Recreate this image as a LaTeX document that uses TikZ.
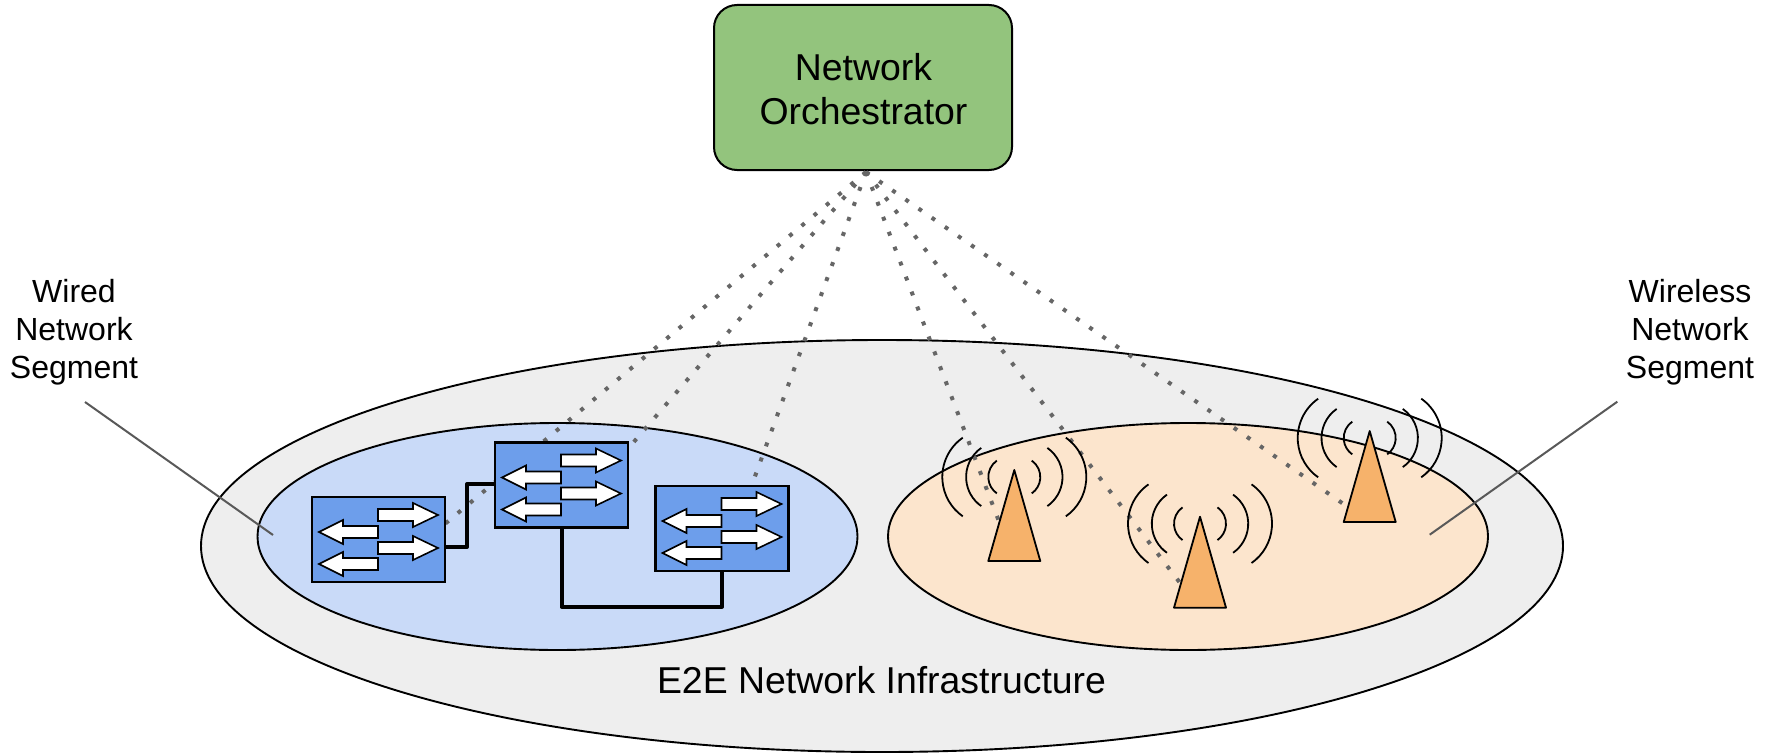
\documentclass[tikz,border=0pt]{standalone}
\usepackage{fontspec}
\setmainfont{Liberation Sans}
\usetikzlibrary{shapes}

\newcommand{\switcharrows}[1]{%
  \begin{scope}[shift={(#1.north west)}]
    \foreach \y in {18,51} {
      \draw [swarrow] (66,-\y+6) -- (101,-\y+6) -- (101,-\y+12) -- (126,-\y)
      -- (101,-\y-12) -- (101,-\y-6) -- (66,-\y-6) -- cycle;
    }
    \foreach \y in {35,67} {
      \draw [swarrow] (66,-\y+6) -- (31,-\y+6) -- (31,-\y+12) -- (7,-\y)
      -- (31,-\y-12) -- (31,-\y-6) -- (66,-\y-6) -- cycle;
    }
  \end{scope}}

\newcommand{\towerwaves}[1]{%
  \foreach \r/\cx in {48/24, 35.5/12.7, 20/6} {
    \draw [wave] ([shift={(-\cx,-7)}]#1) ++(125:\r pt) arc [start angle=125, end angle=235, radius=\r pt];
    \draw [wave] ([shift={(\cx,-7)}]#1) ++(55:\r pt) arc [start angle=55, end angle=-55, radius=\r pt];
  }
  \draw [tower] (#1) -- ++(-26,-91) -- ++(52,0) -- cycle;}

\begin{document}
\begin{tikzpicture}[x=1pt, y=1pt,
orchestrator/.style={rectangle, rounded corners=23pt, draw=black, line width=2pt,
fill=orchgreen, minimum width=298pt, minimum height=165pt, inner sep=0pt},
%
biglabel/.style={align=center, font=\fontsize{37.4}{44}\selectfont, inner sep=0pt},
%
region/.style={draw=black, ellipse, line width=1.9pt, inner sep=0pt},
%
switchbox/.style={draw=black, rectangle, line width=2.4pt, fill=swblue,
minimum width=133pt, minimum height=85pt, inner sep=0pt, outer sep=0pt},
%
swarrow/.style={draw=black, line width=1.6pt, fill=white},
%
wave/.style={draw=black, line width=1.8pt},
%
tower/.style={draw=black, line width=1.8pt, fill=towerorange, line join=round},
%
link/.style={draw=black, line width=4pt, line join=round},
%
control/.style={draw=dotgray, line width=4pt, dash pattern=on 4pt off 12pt},
%
leader/.style={draw=leadgray, line width=2pt},
%
seglabel/.style={align=center, font=\fontsize{32}{38}\selectfont, inner sep=0pt}]

\definecolor{orchgreen}{HTML}{93C47D}
\definecolor{swblue}{HTML}{6D9EEB}
\definecolor{towerorange}{HTML}{F6B26B}
\definecolor{dotgray}{HTML}{666666}
\definecolor{leadgray}{HTML}{595959}
\definecolor{infragray}{HTML}{EEEEEE}
\definecolor{wiredblue}{HTML}{C9DAF8}
\definecolor{wirelessorange}{HTML}{FCE5CD}

\useasboundingbox (0,0) rectangle (1771,-752);

\begin{scope}
  \node [region, fill=infragray, minimum width=1362pt, minimum height=412pt] (infra) at (882,-546) {};
  \node [region, fill=wiredblue, minimum width=600pt, minimum height=227pt] (wired) at (557.5,-536.5) {};
  \node [region, fill=wirelessorange, minimum width=600pt, minimum height=227pt] (wireless) at (1188,-536.5) {};
  \node [orchestrator] (orch) at (863,-87.5) {};
  \node [biglabel] (orchLabel) at (863.5,-89.5) {Network\\Orchestrator};
  \node [biglabel] (infraLabel) at (881.5,-680) {E2E Network Infrastructure};
  \node [seglabel] (wiredLabel) at (74,-332.5) {Wired\\Network\\Segment};
  \node [seglabel] (wirelessLabel) at (1690,-332.5) {Wireless\\Network\\Segment};
\end{scope}

%%%%%%%%%%%%%%%%%%%%%%%%%%%%%%
\coordinate (apex) at (866,-172);
\coordinate (sw1End) at (440,-528);
\coordinate (sw2End) at (620,-458);
\coordinate (sw3End) at (750,-490);
\coordinate (tw1End) at (1003,-532);
\coordinate (tw2End) at (1187,-592);
\coordinate (tw3End) at (1355,-512);
\coordinate (tower1) at (1014.3,-470);
\coordinate (tower2) at (1200,-516.7);
\coordinate (tower3) at (1369.7,-431);
\coordinate (wiredFrom) at (85,-402);
\coordinate (wiredTo) at (273,-535);
\coordinate (wirelessFrom) at (1617.3,-401.7);
\coordinate (wirelessTo) at (1429.7,-534.7);

\foreach \e in {sw1End, sw2End, sw3End, tw1End, tw2End, tw3End} {
  \draw [control] (apex) -- (\e);
}

%%%%%%%%%%%%%%%%%%%%%%%%%%%%%%
\node [switchbox] (sw1) at (378.5,-539.5) {};
\node [switchbox] (sw2) at (561.5,-485) {};
\node [switchbox] (sw3) at (722,-528.5) {};
\draw [link] ([yshift=-7.5pt]sw1.east) -| (467,-484) -- (sw2.west |- 467,-484);
\draw [link] (sw2.south) |- (722,-606.5) -- (sw3.south);
\switcharrows{sw1}
\switcharrows{sw2}
\switcharrows{sw3}

%%%%%%%%%%%%%%%%%%%%%%%%%%%%%%
\towerwaves{tower1}
\towerwaves{tower2}
\towerwaves{tower3}

%%%%%%%%%%%%%%%%%%%%%%%%%%%%%%
\draw [leader] (wiredFrom) -- (wiredTo);
\draw [leader] (wirelessFrom) -- (wirelessTo);

\end{tikzpicture}
\end{document}
